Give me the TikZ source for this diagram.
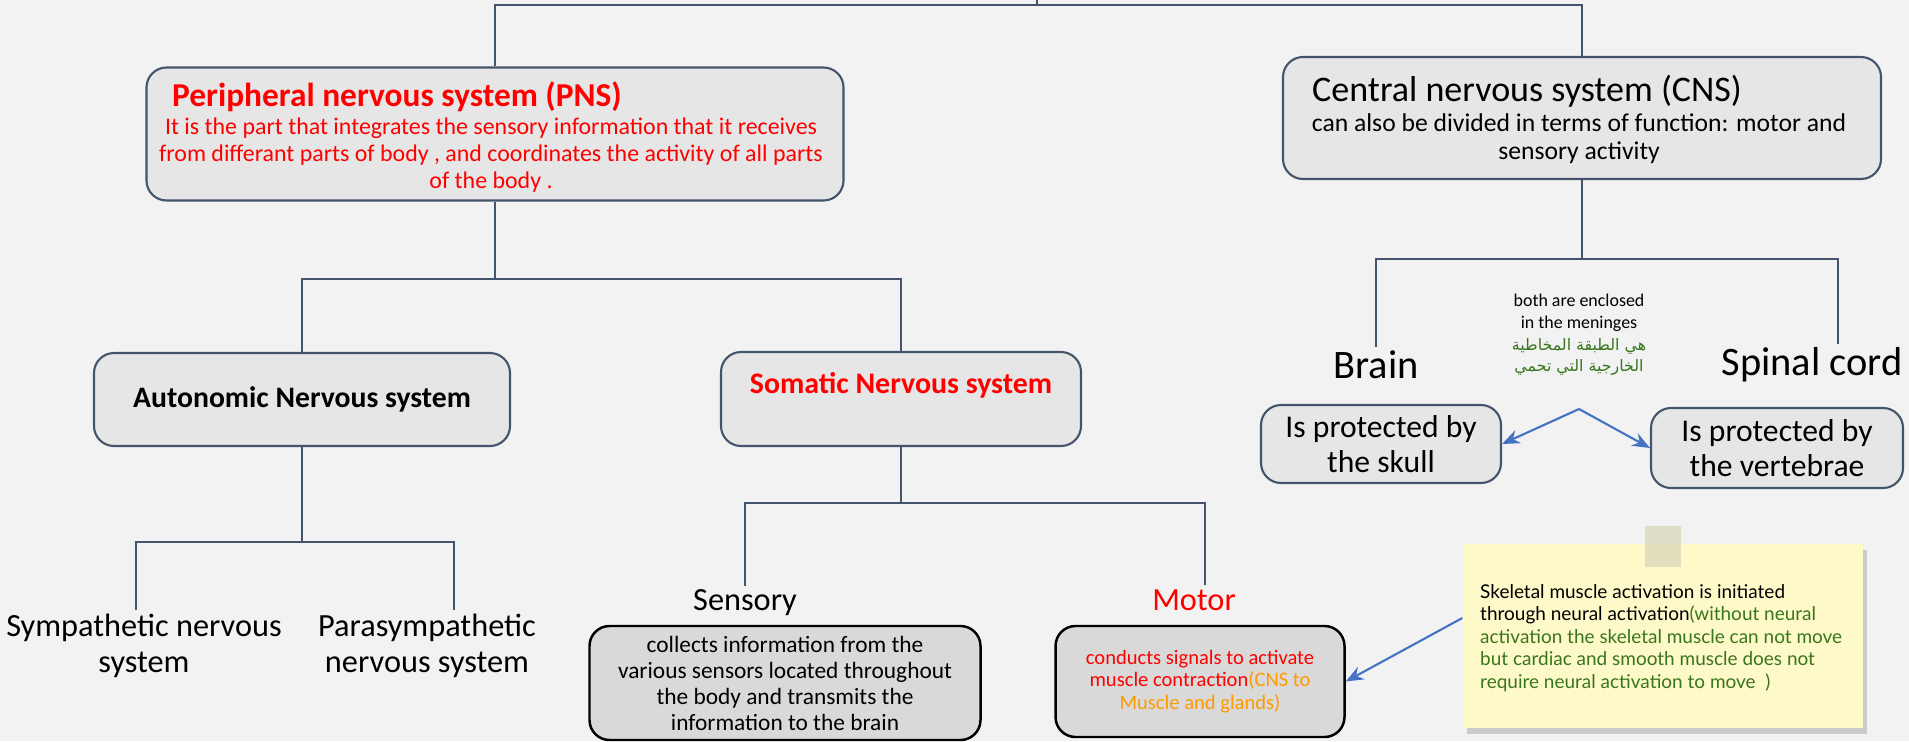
\documentclass[tikz,border=0pt]{standalone}
\usepackage{fontspec}
\setmainfont{Carlito}
\newfontfamily\notefont{Lato}
\newfontfamily\arabicfont[Script=Arabic]{DejaVu Sans}
\TeXXeTstate=1
\usetikzlibrary{arrows.meta,shadows,positioning}

\definecolor{pagebg}{HTML}{F2F2F2}
\definecolor{boxfill}{HTML}{E6E6E6}
\definecolor{darkfill}{HTML}{D9D9D9}
\definecolor{slate}{HTML}{44546A}
\definecolor{linkblue}{HTML}{4472C4}
\definecolor{leafgreen}{HTML}{38761D}
\definecolor{noteyellow}{HTML}{FEF9C8}
\definecolor{amber}{HTML}{FF9900}
\definecolor{tapegrey}{HTML}{DCD8BC}

\tikzset{
  box/.style={draw=slate, line width=0.6pt, fill=boxfill, rounded corners=0.2cm, inner sep=0pt},
  darkbox/.style={draw=black, line width=0.7pt, fill=darkfill, rounded corners=0.2cm, inner sep=0pt},
  notebox/.style={fill=noteyellow, inner sep=0pt,
    drop shadow={shadow xshift=0.04cm, shadow yshift=-0.06cm, opacity=0.35}},
  tag/.style={inner sep=1pt, align=center},
  link/.style={draw=slate, line width=0.6pt},
  pointer/.style={draw=linkblue, line width=0.6pt, -{Stealth[length=5pt,width=4pt]}},
}

\begin{document}
\begin{tikzpicture}

    % ==========================================
    % PAGE
    % ==========================================
    \fill[pagebg] (0,0) rectangle (19.09,7.41);
    \useasboundingbox (0,0) rectangle (19.09,7.41);

    \coordinate (root) at (10.37,7.41);

    % ==========================================
    % PERIPHERAL NERVOUS SYSTEM
    % ==========================================
    \node[box, minimum width=6.97cm, minimum height=1.33cm] (pns) at (4.95,6.07) {};
    \node[tag, anchor=west, text=red, font=\bfseries\fontsize{9.5}{11}\selectfont] (pnstitle) at (1.68,6.44)
        {Peripheral nervous system (PNS)};
    \node[tag, text=red, font=\fontsize{6.8}{7.6}\selectfont] (pnsbody) at (4.91,5.86)
        {It is the part that integrates the sensory information that it receives\\
         from differant parts of body , and coordinates the activity of all parts\\
         of the body .};

    % ==========================================
    % CENTRAL NERVOUS SYSTEM
    % ==========================================
    \node[box, minimum width=5.98cm, minimum height=1.22cm] (cns) at (15.82,6.23) {};
    \node[tag, anchor=west, font=\fontsize{10.25}{12}\selectfont] (cnstitle) at (13.08,6.50)
        {Central nervous system (CNS)};
    \node[tag, font=\fontsize{7.3}{8}\selectfont] (cnsbody) at (15.79,6.02)
        {can also be divided in terms of function: motor and\\sensory activity};

    \draw[link] (root) -- ++(0,-0.05) coordinate (topbus) -| (pns.north);
    \draw[link] (topbus) -| (cns.north);

    % ==========================================
    % PNS BRANCHES
    % ==========================================
    \node[box, minimum width=4.16cm, minimum height=0.93cm, font=\bfseries\fontsize{8.45}{10}\selectfont] (auto) at (3.02,3.415)
        {Autonomic Nervous system};
    \node[box, minimum width=3.60cm, minimum height=0.94cm] (soma) at (9.01,3.42) {};
    \node[tag, text=red, font=\bfseries\fontsize{8.5}{10}\selectfont] (somatitle) at (9.01,3.56)
        {Somatic Nervous system};

    \draw[link] (pns.south) -- ++(0,-0.77) coordinate (pnsbus) -| (auto.north);
    \draw[link] (pnsbus) -| (soma.north);

    % autonomic
    \node[tag, font=\fontsize{9.2}{10.2}\selectfont] (symp) at (1.44,0.95) {Sympathetic nervous\\system};
    \node[tag, font=\fontsize{9.2}{10.2}\selectfont] (paras) at (4.27,0.95) {Parasympathetic\\nervous system};

    \draw[link] (auto.south) -- ++(0,-0.95) coordinate (autobus) -| ([xshift=-0.08cm]symp.north);
    \draw[link] (autobus) -| ([xshift=0.27cm]paras.north);

    % somatic
    \node[tag, font=\fontsize{9.2}{11}\selectfont] (sensory) at (7.45,1.38) {Sensory};
    \node[tag, text=red, font=\fontsize{9.2}{11}\selectfont] (motor) at (11.94,1.41) {Motor};

    \draw[link] (soma.south) -- ++(0,-0.56) coordinate (somabus) -| (sensory.north);
    \draw[link] (somabus) -| ([xshift=0.11cm]motor.north);

    \node[darkbox, minimum width=3.91cm, minimum height=1.14cm, align=center, font=\fontsize{6.65}{7.4}\selectfont] (sensbox) at (7.85,0.58)
        {collects information from the\\various sensors located throughout\\the body and transmits the\\information to the brain};
    \node[darkbox, minimum width=2.89cm, minimum height=1.11cm, align=center, font=\fontsize{5.85}{6.4}\selectfont] (motorbox) at (12.00,0.595)
        {\textcolor{red}{conducts signals to activate}\\
         \textcolor{red}{muscle contraction}\textcolor{amber}{(CNS to}\\
         \textcolor{amber}{Muscle and glands)}};

    % ==========================================
    % CNS BRANCHES
    % ==========================================
    \node[tag, font=\fontsize{11.5}{13}\selectfont] (brain) at (13.76,3.76) {Brain};
    \node[tag, font=\fontsize{11.5}{13}\selectfont] (spinal) at (18.12,3.76) {Spinal cord};

    \draw[link] (cns.south) -- ++(0,-0.79) coordinate (cnsbus) -| (brain.north);
    \draw[link] (cnsbus) -| ([xshift=0.26cm]spinal.north);

    \node[tag, font=\fontsize{5.1}{6.2}\selectfont] (meninges) at (15.79,4.06)
        {both are enclosed\\in the meninges\\
         {\color{leafgreen}\arabicfont\fontsize{4.5}{6.2}\selectfont\beginR هي الطبقة المخاطية\endR}\\
         {\color{leafgreen}\arabicfont\fontsize{4.5}{6.2}\selectfont\beginR الخارجية التي تحمي\endR}};

    \node[box, minimum width=2.40cm, minimum height=0.78cm, align=center, font=\fontsize{9}{10}\selectfont] (brainbox) at (13.81,2.97)
        {Is protected by\\the skull};
    \node[box, minimum width=2.52cm, minimum height=0.80cm, align=center, font=\fontsize{9}{10}\selectfont] (spinebox) at (17.77,2.93)
        {Is protected by\\the vertebrae};

    \coordinate (fork) at (15.79,3.32);
    \draw[pointer] (fork) -- (brainbox.east);
    \draw[pointer] (fork) -- (spinebox.west);

    % ==========================================
    % STICKY NOTE
    % ==========================================
    \node[notebox, minimum width=4.00cm, minimum height=1.84cm] (note) at (16.63,1.05) {};
    \node[fill=tapegrey, opacity=0.8, minimum width=0.36cm, minimum height=0.41cm, inner sep=0pt] (tapestrip) at (16.63,1.945) {};
    \node[tag, anchor=west, align=left, font=\notefont\fontsize{5.4}{6.4}\selectfont] (notetext) at (14.76,1.03)
        {Skeletal muscle activation is initiated\\
         through neural activation\textcolor{leafgreen}{(without neural}\\
         \textcolor{leafgreen}{activation the skeletal muscle can not move}\\
         \textcolor{leafgreen}{but cardiac and smooth muscle does not}\\
         \textcolor{leafgreen}{require neural activation to move\ \ )}};

    \draw[pointer] ([yshift=0.18cm]note.west) -- (motorbox.east);

\end{tikzpicture}
\end{document}
